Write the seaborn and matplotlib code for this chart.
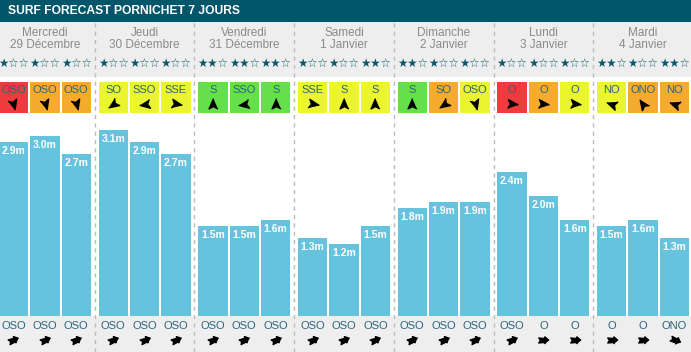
import numpy as np
import pandas as pd
import seaborn as sns
import matplotlib.pyplot as plt
from matplotlib.markers import MarkerStyle
from matplotlib.transforms import Affine2D

# données
days = ["Mercredi", "Jeudi", "Vendredi", "Samedi", "Dimanche", "Lundi", "Mardi"]
dates = ["29 Décembre", "30 Décembre", "31 Décembre", "1 Janvier",
         "2 Janvier", "3 Janvier", "4 Janvier"]
wave_height = [2.9, 3.0, 2.7, 3.1, 2.9, 2.7, 1.5, 1.5, 1.6, 1.3, 1.2, 1.5,
               1.8, 1.9, 1.9, 2.4, 2.0, 1.6, 1.5, 1.6, 1.3]
stars = [1, 1, 1, 1, 1, 1, 2, 2, 2, 1, 1, 2, 2, 1, 1, 1, 1, 1, 2, 1, 2]
wind_dir = ["OSO", "OSO", "OSO", "SO", "SSO", "SSE", "S", "SSO", "S",
            "SSE", "S", "S", "S", "SO", "OSO", "O", "O", "O", "NO", "ONO", "NO"]
wind_level = ["r", "o", "o", "y", "y", "y", "g", "g", "g", "y", "y", "y",
              "g", "o", "y", "r", "o", "y", "y", "o", "o"]
wind_angle = [-75, -75, -75, 215, 188, -10, 90, 188, 90, -10, 90, 90,
              90, 215, -75, -5, -5, -5, 160, 125, 160]
swell_dir = ["OSO"] * 15 + ["OSO", "O", "O", "O", "O", "ONO"]

level_colors = {"r": "#ef3b3d", "o": "#f6ab2e", "y": "#ebf52f", "g": "#66e04a"}
swell_angle = {"OSO": 22.5, "O": 0, "ONO": -22.5}

# mise en page (pixels)
W, H = 691, 352
CELL = 31.4
DAY = 99.7 / CELL
X0 = 13.5
BASE, SCALE = 316, 60.0


def ypx(py):
    return (BASE - py) / SCALE


pos = [d * DAY + j for d in range(7) for j in range(3)]
df = pd.DataFrame({"pos": pos, "height": wave_height})

TEAL = "#2a6478"
plt.rcParams["font.family"] = ["Liberation Sans", "DejaVu Sans"]

fig = plt.figure(figsize=(W / 100, H / 100), dpi=100)
ax = fig.add_axes([0, 0, 1, 1])

# fonds
ax.axhspan(ypx(22), ypx(0), color="#01566a", lw=0, zorder=0)
ax.axhspan(ypx(77), ypx(22), color="#eeeeee", lw=0, zorder=0)
ax.axhspan(ypx(H), 0, color="#eeeeee", lw=0, zorder=0)

# séparateurs
seps = [d * DAY + 2 + (DAY - 2) / 2 for d in range(6)]
ax.vlines(seps, ypx(H), ypx(22), colors="#bbbbbb", lw=1,
          linestyles=(0, (3, 3)), zorder=1)

# barres de houle
sns.barplot(data=df, x="pos", y="height", native_scale=True, width=0.935,
            color="#66c3de", saturation=1, linewidth=0, errorbar=None,
            ax=ax, zorder=2)

for x, h in zip(pos, wave_height):
    ax.text(x, h - 9 / SCALE, f"{h:.1f}m", ha="center", va="center",
            color="white", fontsize=7.5, fontweight="bold", zorder=3)

# vent
ax.bar(pos, (113 - 82) / SCALE, bottom=ypx(113), width=0.935,
       color=[level_colors[c] for c in wind_level], lw=0, zorder=2)

nav = [(1, 0), (-0.75, 0.75), (-0.35, 0), (-0.75, -0.75)]
chunky = [(1.0, 0), (0.25, 0.65), (0.25, 0.35), (-0.85, 0.45), (-0.55, 0),
          (-0.85, -0.45), (0.25, -0.35), (0.25, -0.65)]

for x, lab, a in zip(pos, wind_dir, wind_angle):
    ax.text(x, ypx(90), lab, ha="center", va="center", color=TEAL,
            fontsize=8, zorder=3)
    m = MarkerStyle(nav, transform=Affine2D().rotate_deg(a))
    ax.plot(x, ypx(104), marker=m, ms=8.5, color="black", lw=0, zorder=3)

# étoiles
for x, n in zip(pos, stars):
    ax.text(x, ypx(63), "★" * n + "☆" * (3 - n), ha="center", va="center",
            color="#0b566b", fontsize=8.3, family=["DejaVu Sans"], zorder=3)

# direction de houle
for x, lab in zip(pos, swell_dir):
    ax.text(x, ypx(326), lab, ha="center", va="center", color=TEAL,
            fontsize=8, zorder=3)
    m = MarkerStyle(chunky, transform=Affine2D().rotate_deg(swell_angle[lab]))
    ax.plot(x, ypx(340), marker=m, ms=8, color="black", lw=0, zorder=3)

# jours
for d in range(7):
    cx = d * DAY + 1
    ax.text(cx, ypx(33), days[d], ha="center", va="center", color="#8a8a8a",
            fontsize=8.5, zorder=3)
    ax.text(cx, ypx(45), dates[d], ha="center", va="center", color="#8a8a8a",
            fontsize=8.5, zorder=3)

fig.text(8 / W, 1 - 11 / H, "SURF FORECAST PORNICHET 7 JOURS", color="white",
         fontsize=8.7, fontweight="bold", va="center", ha="left")

ax.set_xlim(-X0 / CELL, (W - X0) / CELL)
ax.set_ylim(ypx(H), ypx(0))
ax.axis("off")

fig.savefig("out.png", dpi=100)
